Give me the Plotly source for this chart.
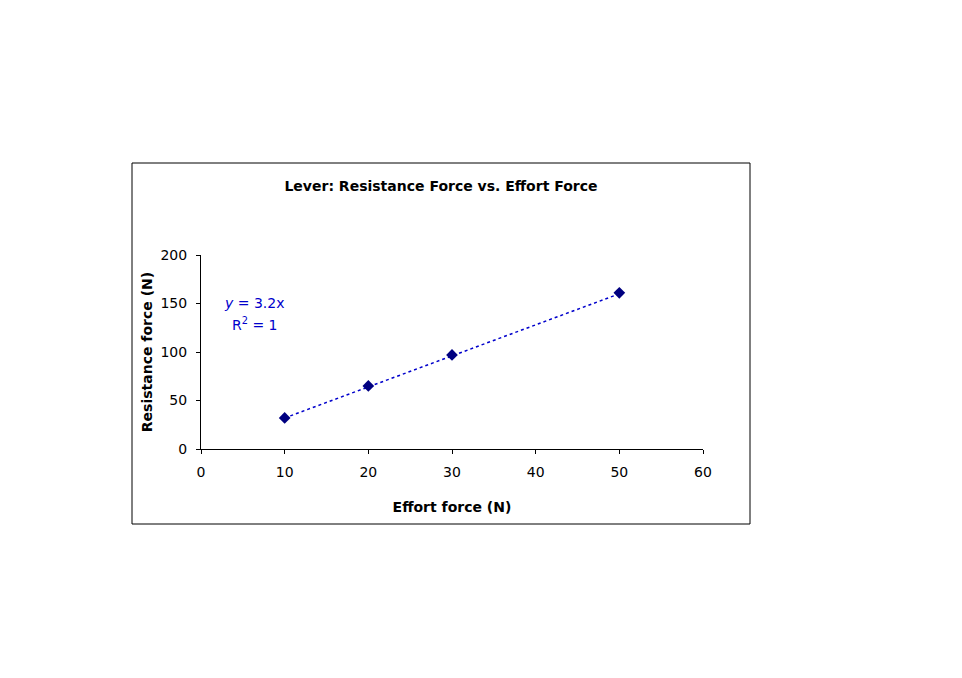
import plotly.graph_objects as go

effort = [10, 20, 30, 50]
resistance = [32, 65, 97, 161]
trend_slope = 3.2
x_ticks = [0, 10, 20, 30, 40, 50, 60]
y_ticks = [0, 50, 100, 150, 200]

navy = "#000080"
font = "DejaVu Sans, Liberation Sans, Arial, sans-serif"

trend_x = [min(effort), max(effort)]
trend_y = [trend_slope * v for v in trend_x]

fig = go.Figure()
fig.add_trace(go.Scatter(x=trend_x, y=trend_y, mode="lines",
                         line=dict(color="#0000CC", width=1.5, dash="dot"),
                         hoverinfo="skip", showlegend=False))
fig.add_trace(go.Scatter(x=effort, y=resistance, mode="markers",
                         marker=dict(symbol="diamond", size=9, color=navy),
                         showlegend=False))

fig.update_layout(
    width=962, height=678,
    margin=dict(l=201, r=259, t=255, b=229),
    paper_bgcolor="white", plot_bgcolor="white",
    font=dict(family=font, size=14, color="black"),
    title=dict(text="<b>Lever: Resistance Force vs. Effort Force</b>",
               x=441 / 962, xanchor="center", y=1 - 186 / 678, yanchor="middle",
               font=dict(size=14, family=font, color="black")),
    xaxis=dict(range=[0, 60], tickvals=x_ticks, showgrid=False, zeroline=False,
               showline=True, linecolor="black", linewidth=1,
               ticks="outside", ticklen=4, tickcolor="black",
               ticklabelstandoff=6,
               tickfont=dict(size=14, family=font),
               title=dict(text="<b>Effort force (N)</b>", standoff=23,
                          font=dict(size=14, family=font))),
    yaxis=dict(range=[0, 200], tickvals=y_ticks, showgrid=False, zeroline=False,
               showline=True, linecolor="black", linewidth=1,
               ticks="outside", ticklen=4, tickcolor="black",
               ticklabelstandoff=6,
               tickfont=dict(size=14, family=font),
               title=dict(text="<b>Resistance force (N)</b>", standoff=4,
                          font=dict(size=14, family=font))),
    shapes=[dict(type="rect", xref="paper", yref="paper",
                 x0=(132 - 201) / 502, x1=(750 - 201) / 502,
                 y0=(449 - 524) / 194, y1=(449 - 163) / 194,
                 line=dict(color="black", width=1), fillcolor="rgba(0,0,0,0)",
                 layer="below")],
    annotations=[
        dict(text="<i>y</i> = 3.2x", xref="paper", yref="paper",
             x=(254 - 201) / 502, y=(449 - 303) / 194, showarrow=False,
             xanchor="center", yanchor="middle",
             font=dict(size=14, family=font, color="#0000CC")),
        dict(text="R<sup>2</sup> = 1", xref="paper", yref="paper",
             x=(255 - 201) / 502, y=(449 - 324) / 194, showarrow=False,
             xanchor="center", yanchor="middle",
             font=dict(size=14, family=font, color="#0000CC")),
    ],
)

fig.write_html("out.html")
